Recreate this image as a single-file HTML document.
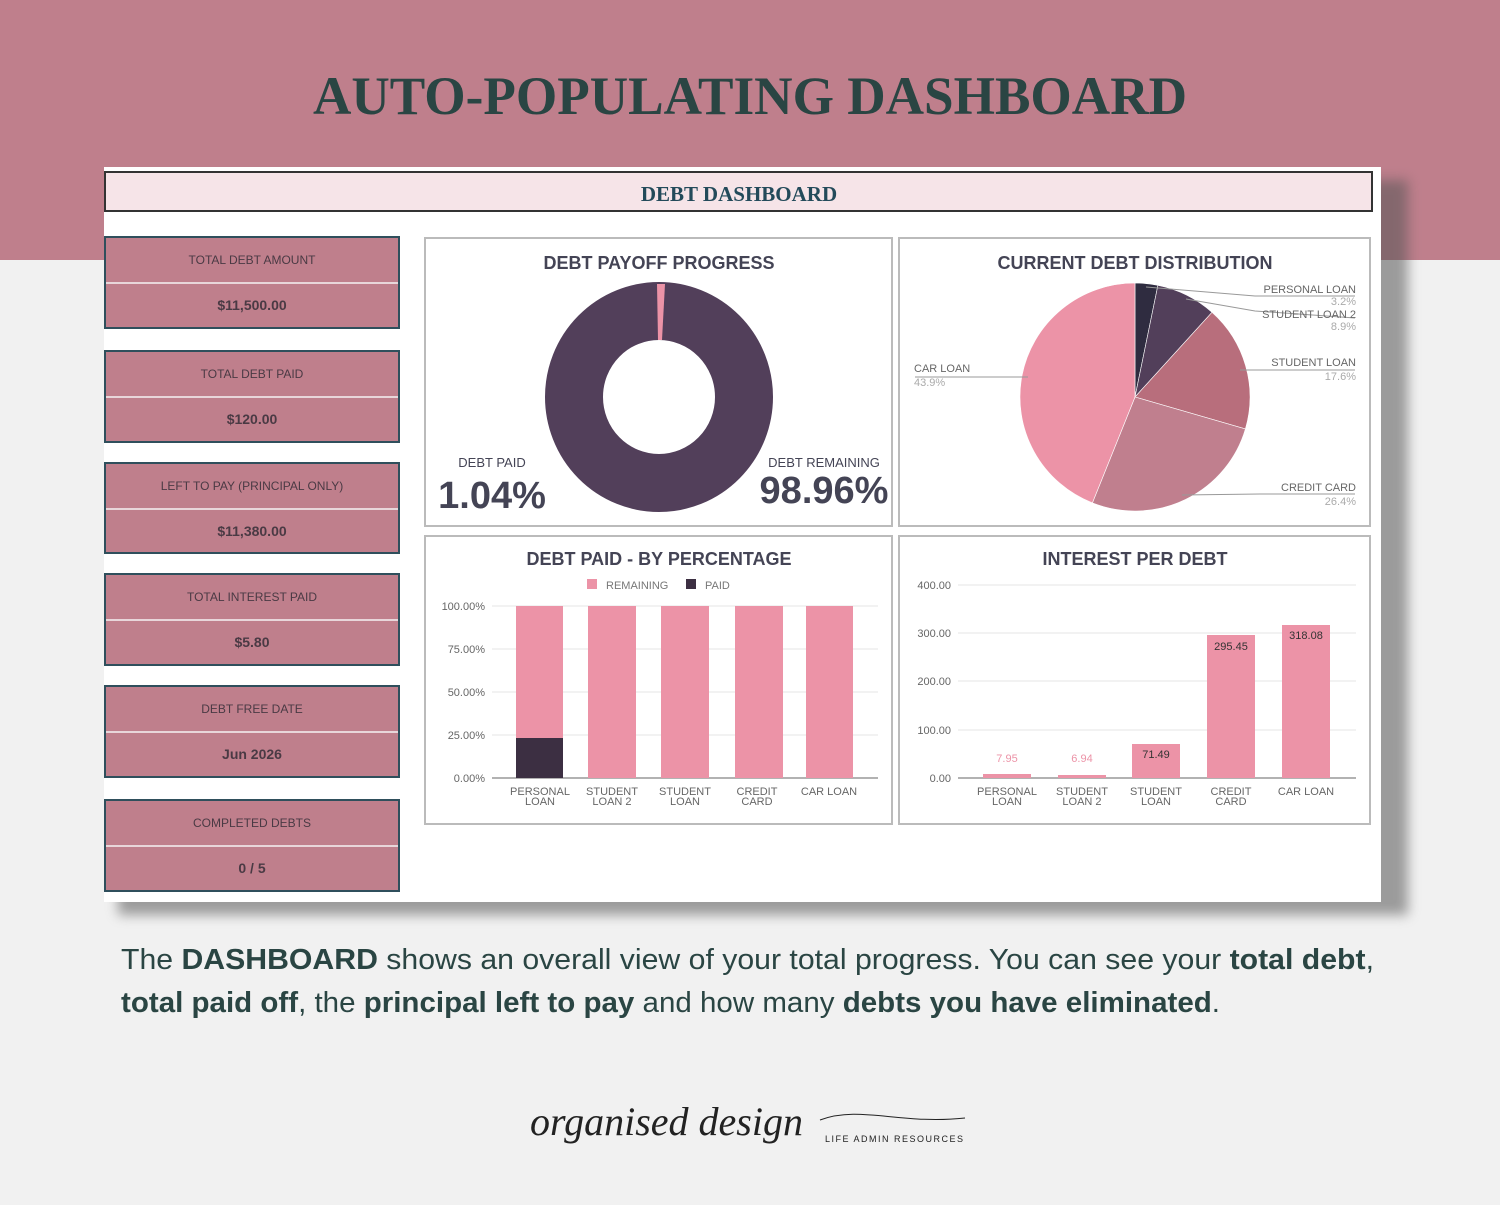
<!DOCTYPE html>
<html><head><meta charset="utf-8"><style>
body{margin:0;width:1500px;height:1200px;overflow:hidden;background:#f1f1f1;font-family:"Liberation Sans",sans-serif}
</style></head><body>
<svg width="1500" height="1200" viewBox="0 0 1500 1200" xmlns="http://www.w3.org/2000/svg" font-family="Liberation Sans, sans-serif">
<rect width="1500" height="1200" fill="#f1f1f1"/>
<rect width="1500" height="260" fill="#bf7f8c"/>
<text x="750" y="114" text-anchor="middle" font-family="Liberation Serif, serif" font-weight="bold" font-size="54" fill="#2a4543" textLength="874" lengthAdjust="spacingAndGlyphs">AUTO-POPULATING DASHBOARD</text>
<rect x="118" y="180" width="1290" height="735" fill="#555" opacity="0.55" filter="blur(6px)"/>
<rect x="104" y="167" width="1277" height="735" fill="#fff"/>
<rect x="105" y="172" width="1267" height="39" fill="#f6e4e8" stroke="#333" stroke-width="2"/>
<text x="739" y="201" text-anchor="middle" font-family="Liberation Serif, serif" font-weight="bold" font-size="21" fill="#234a5a">DEBT DASHBOARD</text>
<g font-size="12" fill="#4a3a44" text-anchor="middle">
<g><rect x="105" y="237" width="294" height="91" fill="#bf7f8c" stroke="#2f4f5c" stroke-width="2"/><line x1="106" y1="283" x2="398" y2="283" stroke="#e8d6da" stroke-width="2"/><text x="252" y="264">TOTAL DEBT AMOUNT</text><text x="252" y="310" font-size="14" font-weight="bold">$11,500.00</text></g>
<g><rect x="105" y="351" width="294" height="91" fill="#bf7f8c" stroke="#2f4f5c" stroke-width="2"/><line x1="106" y1="397" x2="398" y2="397" stroke="#e8d6da" stroke-width="2"/><text x="252" y="378">TOTAL DEBT PAID</text><text x="252" y="424" font-size="14" font-weight="bold">$120.00</text></g>
<g><rect x="105" y="463" width="294" height="90" fill="#bf7f8c" stroke="#2f4f5c" stroke-width="2"/><line x1="106" y1="509" x2="398" y2="509" stroke="#e8d6da" stroke-width="2"/><text x="252" y="490">LEFT TO PAY (PRINCIPAL ONLY)</text><text x="252" y="536" font-size="14" font-weight="bold">$11,380.00</text></g>
<g><rect x="105" y="574" width="294" height="91" fill="#bf7f8c" stroke="#2f4f5c" stroke-width="2"/><line x1="106" y1="620" x2="398" y2="620" stroke="#e8d6da" stroke-width="2"/><text x="252" y="601">TOTAL INTEREST PAID</text><text x="252" y="647" font-size="14" font-weight="bold">$5.80</text></g>
<g><rect x="105" y="686" width="294" height="91" fill="#bf7f8c" stroke="#2f4f5c" stroke-width="2"/><line x1="106" y1="732" x2="398" y2="732" stroke="#e8d6da" stroke-width="2"/><text x="252" y="713">DEBT FREE DATE</text><text x="252" y="759" font-size="14" font-weight="bold">Jun 2026</text></g>
<g><rect x="105" y="800" width="294" height="91" fill="#bf7f8c" stroke="#2f4f5c" stroke-width="2"/><line x1="106" y1="846" x2="398" y2="846" stroke="#e8d6da" stroke-width="2"/><text x="252" y="827">COMPLETED DEBTS</text><text x="252" y="873" font-size="14" font-weight="bold">0 / 5</text></g>
</g>
<g fill="none" stroke="#bbb" stroke-width="2">
<rect x="425" y="238" width="467" height="288"/><rect x="899" y="238" width="471" height="288"/>
<rect x="425" y="536" width="467" height="288"/><rect x="899" y="536" width="471" height="288"/>
</g>
<g font-weight="bold" font-size="18" fill="#444455" text-anchor="middle">
<text x="659" y="269">DEBT PAYOFF PROGRESS</text><text x="1135" y="269">CURRENT DEBT DISTRIBUTION</text>
<text x="659" y="565">DEBT PAID - BY PERCENTAGE</text><text x="1135" y="565">INTEREST PER DEBT</text>
</g>
<ellipse cx="659" cy="397" rx="85" ry="86" fill="none" stroke="#523f5a" stroke-width="58"/>
<path d="M657 284 L665 284 L662 340 L658 340Z" fill="#ec93a7"/>
<g fill="#444455"><text x="492" y="467" font-size="13" text-anchor="middle">DEBT PAID</text><text x="492" y="508" font-size="38" font-weight="bold" text-anchor="middle">1.04%</text>
<text x="824" y="467" font-size="13" text-anchor="middle">DEBT REMAINING</text><text x="824" y="503" font-size="38" font-weight="bold" text-anchor="middle">98.96%</text></g>
<g transform="translate(1135,397)" stroke="#fff" stroke-width="0.6">
<path d="M0 0 L0 -114 A115 114 0 0 1 22.9 -111.7Z" fill="#2f2c40"/>
<path d="M0 0 L22.9 -111.7 A115 114 0 0 1 77.0 -84.7Z" fill="#523f5a"/>
<path d="M0 0 L77.0 -84.7 A115 114 0 0 1 110.4 31.9Z" fill="#b86e7c"/>
<path d="M0 0 L110.4 31.9 A115 114 0 0 1 -42.6 105.9Z" fill="#c07f8e"/>
<path d="M0 0 L-42.6 105.9 A115 114 0 0 1 0 -114Z" fill="#ec93a7"/>
</g>
<g stroke="#999" stroke-width="1" fill="none">
<polyline points="1146,287 1255,296 1355,296"/><polyline points="1186,299 1255,311 1355,318"/><polyline points="1240,370 1355,370"/><polyline points="1182,495 1260,494 1355,494"/><polyline points="1028,377 915,377"/>
</g>
<g font-size="11" fill="#666" text-anchor="end">
<text x="1356" y="293">PERSONAL LOAN</text><text x="1356" y="305" fill="#aaa">3.2%</text>
<text x="1356" y="318">STUDENT LOAN 2</text><text x="1356" y="330" fill="#aaa">8.9%</text>
<text x="1356" y="366">STUDENT LOAN</text><text x="1356" y="380" fill="#aaa">17.6%</text>
<text x="1356" y="491">CREDIT CARD</text><text x="1356" y="505" fill="#aaa">26.4%</text>
<text x="914" y="372" text-anchor="start">CAR LOAN</text><text x="914" y="386" text-anchor="start" fill="#aaa">43.9%</text>
</g>
<rect x="587" y="579" width="10" height="10" fill="#ec93a7"/><text x="606" y="589" font-size="11" fill="#777">REMAINING</text>
<rect x="686" y="579" width="10" height="10" fill="#3c2f42"/><text x="705" y="589" font-size="11" fill="#777">PAID</text>
<g stroke="#e6e6e6"><line x1="492" y1="606" x2="878" y2="606"/><line x1="492" y1="649" x2="878" y2="649"/><line x1="492" y1="692" x2="878" y2="692"/><line x1="492" y1="735" x2="878" y2="735"/></g>
<line x1="492" y1="778" x2="878" y2="778" stroke="#999" stroke-width="1.5"/>
<g font-size="11" fill="#666" text-anchor="end"><text x="485" y="610">100.00%</text><text x="485" y="653">75.00%</text><text x="485" y="696">50.00%</text><text x="485" y="739">25.00%</text><text x="485" y="782">0.00%</text></g>
<g fill="#ec93a7"><rect x="516" y="606" width="47" height="172"/><rect x="588" y="606" width="48" height="172"/><rect x="661" y="606" width="48" height="172"/><rect x="735" y="606" width="48" height="172"/><rect x="806" y="606" width="47" height="172"/></g>
<rect x="516" y="738" width="47" height="40" fill="#3c2f42"/>
<g font-size="11" fill="#666" text-anchor="middle"><text x="540" y="795">PERSONAL</text><text x="540" y="805">LOAN</text><text x="612" y="795">STUDENT</text><text x="612" y="805">LOAN 2</text><text x="685" y="795">STUDENT</text><text x="685" y="805">LOAN</text><text x="757" y="795">CREDIT</text><text x="757" y="805">CARD</text><text x="829" y="795">CAR LOAN</text></g>
<g stroke="#e6e6e6"><line x1="958" y1="585" x2="1356" y2="585"/><line x1="958" y1="633" x2="1356" y2="633"/><line x1="958" y1="681" x2="1356" y2="681"/><line x1="958" y1="730" x2="1356" y2="730"/></g>
<line x1="958" y1="778" x2="1356" y2="778" stroke="#999" stroke-width="1.5"/>
<g font-size="11" fill="#666" text-anchor="end"><text x="951" y="589">400.00</text><text x="951" y="637">300.00</text><text x="951" y="685">200.00</text><text x="951" y="734">100.00</text><text x="951" y="782">0.00</text></g>
<g fill="#ec93a7"><rect x="983" y="774" width="48" height="4"/><rect x="1058" y="775" width="48" height="3"/><rect x="1132" y="744" width="48" height="34"/><rect x="1207" y="635" width="48" height="143"/><rect x="1282" y="625" width="48" height="153"/></g>
<g font-size="11" text-anchor="middle"><text x="1007" y="762" fill="#ec93a7">7.95</text><text x="1082" y="762" fill="#ec93a7">6.94</text><text x="1156" y="758" fill="#333">71.49</text><text x="1231" y="650" fill="#333">295.45</text><text x="1306" y="639" fill="#333">318.08</text></g>
<g font-size="11" fill="#666" text-anchor="middle"><text x="1007" y="795">PERSONAL</text><text x="1007" y="805">LOAN</text><text x="1082" y="795">STUDENT</text><text x="1082" y="805">LOAN 2</text><text x="1156" y="795">STUDENT</text><text x="1156" y="805">LOAN</text><text x="1231" y="795">CREDIT</text><text x="1231" y="805">CARD</text><text x="1306" y="795">CAR LOAN</text></g>
<g font-size="29" fill="#2a4543">
<text x="121" y="969" textLength="1253" lengthAdjust="spacingAndGlyphs">The <tspan font-weight="bold">DASHBOARD</tspan> shows an overall view of your total progress. You can see your <tspan font-weight="bold">total debt</tspan>,</text>
<text x="121" y="1012" textLength="1099" lengthAdjust="spacingAndGlyphs"><tspan font-weight="bold">total paid off</tspan>, the <tspan font-weight="bold">principal left to pay</tspan> and how many <tspan font-weight="bold">debts you have eliminated</tspan>.</text>
</g>
<text x="530" y="1135" font-family="Liberation Serif, serif" font-style="italic" font-size="40" fill="#222">organised design</text>
<path d="M820 1120 C860 1105 900 1125 965 1118" stroke="#222" fill="none"/>
<text x="825" y="1142" font-size="9" letter-spacing="1.5" fill="#222">LIFE ADMIN RESOURCES</text>
</svg>
</body></html>
